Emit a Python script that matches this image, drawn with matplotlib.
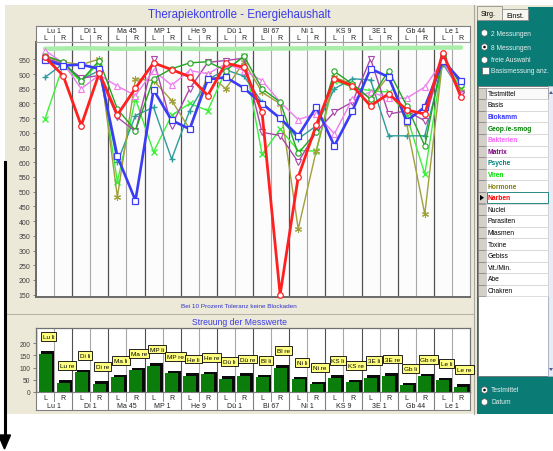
import matplotlib
matplotlib.use("Agg")
import matplotlib.pyplot as plt
from matplotlib.patches import Rectangle, Polygon, Circle

plt.rcParams['font.family'] = ['Liberation Sans', 'DejaVu Sans']

W, H = 553, 452

# ---------------- data ----------------
groups = ["Lu 1", "Di 1", "Ma 45", "MP 1", "He 9", "Dü 1", "Bl 67", "Ni 1", "KS 9", "3E 1", "Gb 44", "Le 1"]
sides = ["L", "R"]
y_ticks = [950, 900, 850, 800, 750, 700, 650, 600, 550, 500, 450, 400, 350, 300, 250, 200, 150]
bar_ticks = [0, 50, 100, 150, 200]

basis     = [986, 987, 988, 987, 986, 986, 987, 987, 986, 985, 985, 986, 986, 987, 987, 988, 988, 988, 988, 989, 989, 989, 990, 990]
viren     = [748, 929, 874, 940, 533, 816, 635, 760, 800, 776, 912, 961, 627, 713, 640, 638, 877, 856, 843, 839, 758, 560, 952, 850]
psyche    = [889, 935, 881, 912, 600, 759, 787, 611, 776, 882, 914, 893, 804, 748, 680, 724, 850, 884, 880, 690, 690, 690, 935, 840]
hormone   = [958, 941, 932, 951, 482, 884, 878, 810, 713, 901, 850, 942, 838, 799, 373, 640, 889, 866, 815, 894, 730, 424, 952, 843]
matrix    = [954, 935, 886, 895, 753, 705, 950, 725, 850, 940, 946, 954, 702, 691, 601, 703, 771, 805, 952, 764, 775, 741, 958, 833]
bakterien = [980, 938, 850, 897, 859, 827, 912, 862, 912, 901, 935, 912, 878, 805, 745, 765, 697, 815, 839, 818, 818, 856, 946, 833]
geop      = [963, 941, 878, 946, 781, 708, 884, 918, 938, 942, 912, 961, 850, 805, 630, 703, 909, 866, 815, 912, 792, 656, 963, 862]
biokamm   = [948, 929, 932, 918, 620, 470, 846, 743, 713, 882, 889, 852, 799, 750, 690, 788, 656, 775, 918, 890, 741, 788, 946, 877]
narben    = [957, 895, 725, 904, 761, 852, 938, 915, 891, 827, 937, 923, 770, 150, 550, 727, 884, 860, 792, 833, 778, 764, 972, 822]

bar_values = [157, 38, 82, 34, 61, 89, 107, 77, 66, 73, 55, 66, 61, 100, 52, 32, 59, 41, 59, 66, 27, 64, 49, 22]
bar_labels = ["Lu li", "Lu re", "Di li", "Di re", "Ma li", "Ma re", "MP li", "MP re", "He li", "He re",
              "Dü li", "Dü re", "Bl li", "Bl re", "Ni li", "Ni re", "KS li", "KS re", "3E li", "3E re",
              "Gb li", "Gb re", "Le li", "Le re"]

testmittel = ["Basis", "Biokamm", "Geop./e-smog", "Bakterien", "Matrix", "Psyche", "Viren", "Hormone",
              "Narben", "Nuclei", "Parasiten", "Miasmen", "Toxine", "Gebiss", "Vit./Min.", "Abe", "Chakren"]

# ---------------- styles ----------------
series = [
    (viren,     dict(color='#3CF03C', lw=1.0, marker='x', ms=4, mew=1.0)),
    (psyche,    dict(color='#2E9C9C', lw=1.0, marker='+', ms=5, mew=1.0)),
    (hormone,   dict(color='#A0A03C', lw=1.0, marker=(6, 2, 0), ms=5, mew=0.8)),
    (matrix,    dict(color='#A848A8', lw=1.0, marker='v', ms=4, mfc='white', mew=0.8)),
    (bakterien, dict(color='#F07CF0', lw=1.0, marker='^', ms=4, mfc='white', mew=0.8)),
    (geop,      dict(color='#22A522', lw=1.0, marker='o', ms=3.8, mfc='white', mew=0.8)),
    (biokamm,   dict(color='#3C3CF5', lw=1.9, marker='s', ms=4, mfc='white', mew=0.9)),
    (narben,    dict(color='#FF2020', lw=2.0, marker='o', ms=4, mfc='white', mew=0.9)),
]
tm_colors = ['black', '#3333FF', '#008000', '#FF66FF', '#800080', '#008080', '#00E000', '#808000', '#FF0000',
             'black', 'black', 'black', 'black', 'black', 'black', 'black', 'black']
tm_bold = [False, True, True, True, True, True, True, True, True] + [False] * 8

teal = '#0B7B76'
beige = '#ECE9D8'
blue_txt = '#3A3AE8'


def frac(l, t, r, b):
    return [l / W, 1 - b / H, (r - l) / W, (b - t) / H]


fig = plt.figure(figsize=(W / 100, H / 100), dpi=100)
fig.patch.set_facecolor('white')

bg = fig.add_axes([0, 0, 1, 1], zorder=0)
bg.set_xlim(0, W)
bg.set_ylim(H, 0)
bg.axis('off')


def rect(x0, y0, x1, y1, fc, ec='none', lw=0.8, z=1):
    bg.add_patch(Rectangle((x0, y0), x1 - x0, y1 - y0, fc=fc, ec=ec, lw=lw, zorder=z))


# main beige panel
rect(5, 6, 476, 415, beige)
bg.plot([474, 474], [6, 415], color='#A8A8A0', lw=0.8, zorder=2)
bg.plot([5, 473], [315, 315], color='#B8B5A8', lw=0.8, zorder=2)

# black arrow on the left
bg.plot([4.5, 4.5], [163, 437], color='black', lw=2.2, zorder=5)
bg.add_patch(Polygon([[-1.5, 436], [10.5, 436], [4.5, 450]], closed=True, fc='black', ec='black', zorder=5))

# titles
bg.text(239.5, 15, "Therapiekontrolle - Energiehaushalt", ha='center', va='center',
        color=blue_txt, fontsize=8.3, zorder=3)
bg.text(239, 307, "Bei 10 Prozent Toleranz keine Blockaden", ha='center', va='center',
        color='#3333CC', fontsize=4.6, zorder=3)
bg.text(239, 322.5, "Streuung der Messwerte", ha='center', va='center',
        color=blue_txt, fontsize=6.2, zorder=3)

xs = [i + 0.5 for i in range(24)]

# ---------------- header of top chart ----------------
hx = fig.add_axes(frac(36, 27, 470, 43), zorder=2)
hx.set_facecolor('white')
hx.set_xlim(0, 24)
hx.set_ylim(1, 0)
hx.set_xticks([])
hx.set_yticks([])
for s in hx.spines.values():
    s.set_color('#808080')
    s.set_linewidth(0.8)
for g, name in enumerate(groups):
    hx.text(2 * g + 1, 0.3, name, ha='center', va='center', fontsize=5, color='#202020')
    for j, sd in enumerate(sides):
        hx.text(2 * g + 0.5 + j, 0.75, sd, ha='center', va='center', fontsize=5, color='#202020')
    hx.plot([2 * g + 1, 2 * g + 1], [0.58, 0.95], color='#909090', lw=0.7)
    if g > 0:
        hx.plot([2 * g, 2 * g], [0, 1], color='#606060', lw=0.9)

# ---------------- top line chart ----------------
ax = fig.add_axes(frac(36, 43, 470, 298), zorder=2)
ax.set_facecolor('#FCFCFC')
ax.set_xlim(0, 24)
ax.set_ylim(142, 1009)
for k in range(1, 24):
    if k % 2 == 0:
        ax.axvline(k, color='#505050', lw=0.9, zorder=1)
    else:
        ax.axvline(k, color='#A8A8A8', lw=0.8, zorder=1)
ax.plot(xs, basis, color='#A8EEA8', lw=3.2, solid_capstyle='round', zorder=2)
for i, (vals, st) in enumerate(series):
    st = dict(st)
    c = st.pop('color')
    ax.plot(xs, vals, color=c, mec=c, zorder=3 + i, clip_on=False, **st)
ax.set_xticks([])
ax.set_yticks(y_ticks)
ax.set_yticklabels([str(v) for v in y_ticks], fontsize=5, color='#404040')
ax.tick_params(axis='y', length=2, width=0.6, color='#707070', pad=2)
for side, s in ax.spines.items():
    if side in ('left', 'bottom'):
        s.set_color('#6A6A6A')
        s.set_linewidth(1.4)
    else:
        s.set_color('#A0A0A0')
        s.set_linewidth(0.8)

# ---------------- bottom bar chart ----------------
bx = fig.add_axes(frac(36, 329, 470, 393), zorder=2)
bx.set_facecolor('white')
bx.set_xlim(0, 24)
bx.set_ylim(0, 262)
for k in range(1, 24):
    bx.axvline(k, color='#505050' if k % 2 == 0 else '#A8A8A8', lw=0.8, zorder=1)
dx, dv = 0.15, 10
bx.bar([v + dx for v in xs], [b + dv for b in bar_values], width=0.72, color='#0A0A0A', zorder=2)
bx.bar(xs, bar_values, width=0.72, color='#0A7D0A', zorder=3)
bx.plot([0.08, 0.08], [0, 250], color='#E8E860', lw=1.2, zorder=2)
for xv, b, lab in zip(xs, bar_values, bar_labels):
    bx.text(xv + 0.2, b + 69, lab, ha='center', va='center', fontsize=4.6, color='black', zorder=6,
            bbox=dict(boxstyle='square,pad=0.3', fc='#FFFF80', ec='black', lw=0.6))
bx.set_xticks([])
bx.set_yticks(bar_ticks)
bx.set_yticklabels([str(v) for v in bar_ticks], fontsize=4.8, color='#404040')
bx.tick_params(axis='y', length=2, width=0.6, color='#707070', pad=2)
for side, s in bx.spines.items():
    s.set_color('#707070')
    s.set_linewidth(0.9)

# x-label boxes of bottom chart
lx = fig.add_axes(frac(36, 393, 470, 411), zorder=2)
lx.set_facecolor('white')
lx.set_xlim(0, 24)
lx.set_ylim(1, 0)
lx.set_xticks([])
lx.set_yticks([])
for s in lx.spines.values():
    s.set_color('#808080')
    s.set_linewidth(0.8)
for g, name in enumerate(groups):
    lx.text(2 * g + 1, 0.74, name, ha='center', va='center', fontsize=5, color='#202020')
    for j, sd in enumerate(sides):
        lx.text(2 * g + 0.5 + j, 0.28, sd, ha='center', va='center', fontsize=5, color='#202020')
    lx.plot([2 * g + 1, 2 * g + 1], [0.05, 0.5], color='#909090', lw=0.7)
    if g > 0:
        lx.plot([2 * g, 2 * g], [0, 1], color='#808080', lw=0.8)

# ---------------- right control panel ----------------
rect(476, 6, 553, 415, beige, z=1)
rect(477, 20, 553, 415, teal, z=2)
rect(528, 8, 553, 21, teal, z=2)
rect(502, 10, 528, 21, '#F7F6F0', ec='#909090', lw=0.6, z=3)
rect(477, 7, 502, 21, beige, ec='#909090', lw=0.6, z=3)
bg.text(481, 14, "Strg.", fontsize=5, va='center', ha='left', color='black', zorder=4)
bg.text(506, 16, "Einst.", fontsize=5, va='center', ha='left', color='black', zorder=4)

opts = [("2 Messungen", 34, False), ("8 Messungen", 48, True), ("freie Auswahl", 61, False)]
for txt, yy, sel in opts:
    bg.add_patch(Circle((484.5, yy), 3.2, fc='white', ec='#606060', lw=0.5, zorder=4))
    if sel:
        bg.add_patch(Circle((484.5, yy), 1.3, fc='black', ec='none', zorder=5))
    bg.text(491, yy, txt, fontsize=4.8, va='center', ha='left', color='#E8F0EE', zorder=4)
rect(481.5, 67.5, 488.5, 75, 'white', ec='#606060', lw=0.5, z=4)
bg.text(491, 71.5, "Basismessung anz.", fontsize=4.8, va='center', ha='left', color='#E8F0EE', zorder=4)

# table
rect(478, 87, 548, 377, 'white', ec='#707070', lw=0.6, z=3)
rect(548, 87, 553, 377, '#E8ECF4', ec='#B0B8C8', lw=0.5, z=3)
bg.add_patch(Polygon([[549, 95], [553, 95], [551, 92]], closed=True, fc='#4A5A9A', ec='none', zorder=4))
bg.add_patch(Polygon([[549, 369], [553, 369], [551, 372]], closed=True, fc='#4A5A9A', ec='none', zorder=4))
row_h = 11.6
top0 = 88.5
# header row
rect(478, top0, 486, top0 + row_h, '#D4D0C8', ec='#808080', lw=0.5, z=4)
rect(486, top0, 548, top0 + row_h, '#FAFAFA', ec='#909090', lw=0.5, z=4)
bg.text(488, top0 + row_h / 2, "Testmittel", fontsize=4.8, va='center', ha='left', color='black', zorder=5)
for r, (name, col, bold) in enumerate(zip(testmittel, tm_colors, tm_bold)):
    y0 = top0 + (r + 1) * row_h
    rect(478, y0, 486, y0 + row_h, '#D4D0C8', ec='#808080', lw=0.5, z=4)
    rect(486, y0, 548, y0 + row_h, 'white', ec='#D0D0D0', lw=0.5, z=4)
    if name == "Narben":
        rect(486.5, y0 + 0.5, 547.5, y0 + row_h - 0.5, 'white', ec=teal, lw=0.6, z=5)
        bg.add_patch(Polygon([[480, y0 + 3], [480, y0 + row_h - 3], [484, y0 + row_h / 2]], closed=True,
                             fc='black', ec='none', zorder=6))
    bg.text(488, y0 + row_h / 2, name, fontsize=4.8, va='center', ha='left', color=col,
            fontweight='bold' if bold else 'normal', zorder=6)

opts2 = [("Testmittel", 391, True), ("Datum", 403, False)]
for txt, yy, sel in opts2:
    bg.add_patch(Circle((484.5, yy), 3.2, fc='white', ec='#606060', lw=0.5, zorder=4))
    if sel:
        bg.add_patch(Circle((484.5, yy), 1.3, fc='black', ec='none', zorder=5))
    bg.text(491, yy, txt, fontsize=4.8, va='center', ha='left', color='#E8F0EE', zorder=4)

fig.savefig('out.png', dpi=100)
